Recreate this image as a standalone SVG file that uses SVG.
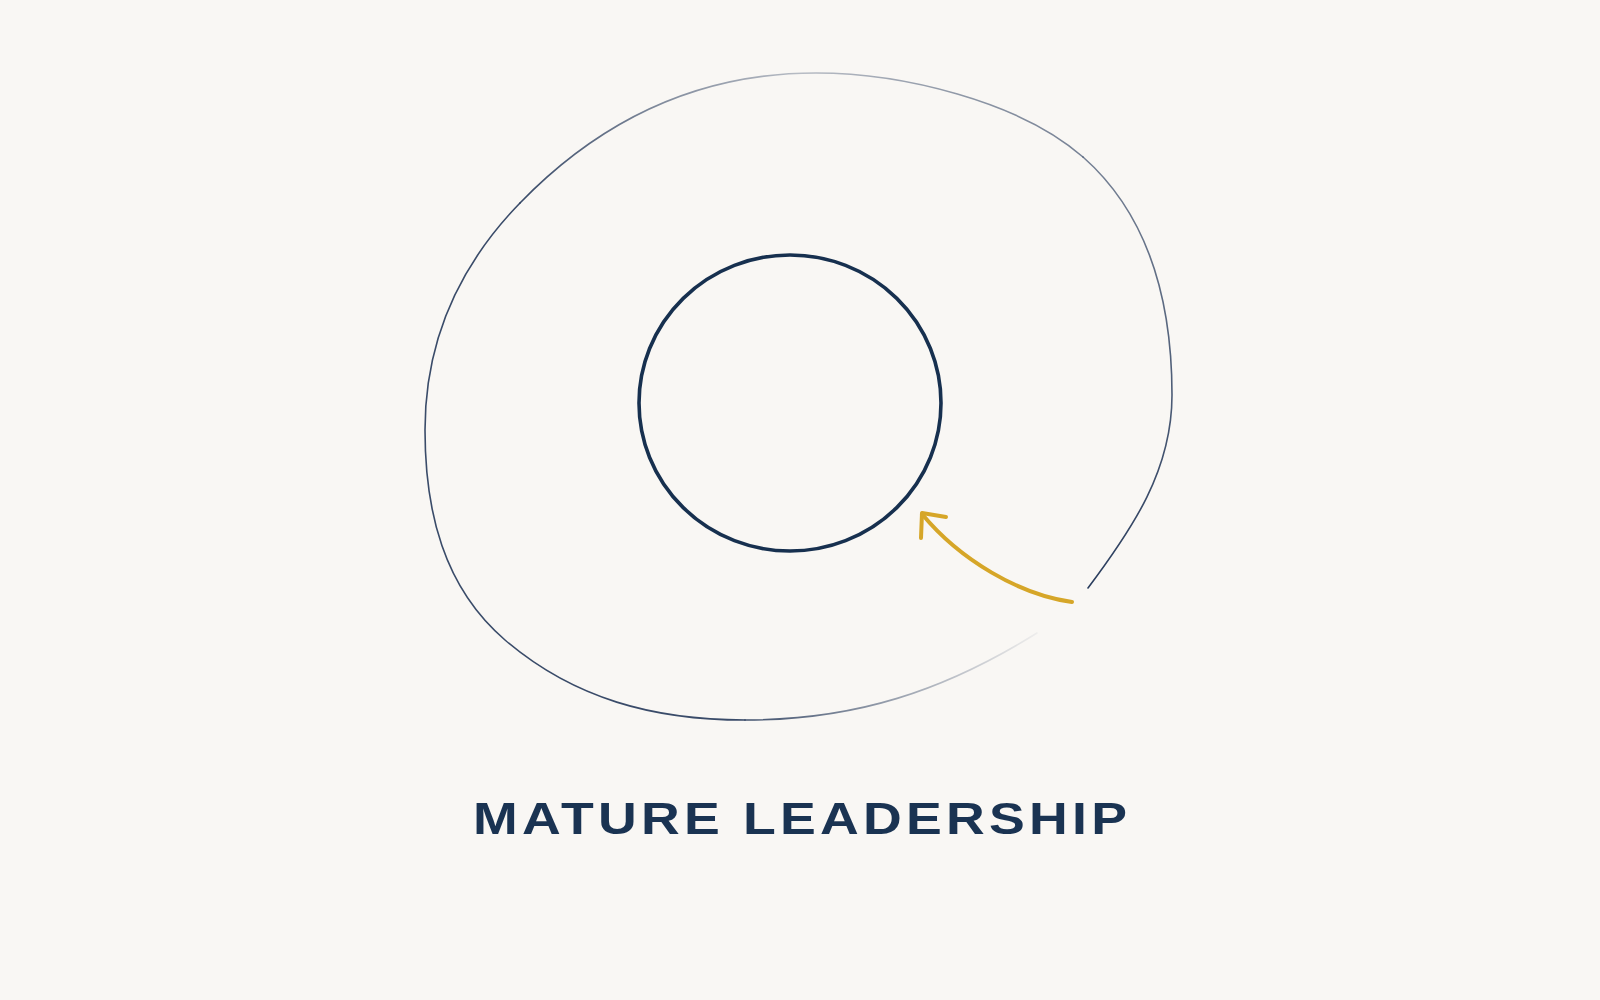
<svg xmlns="http://www.w3.org/2000/svg" width="1600" height="1000" viewBox="0 0 1600 1000">
  <style>
    .outer { fill: none; stroke-width: 1.6; stroke-linecap: round; stroke-linejoin: round; }
    .inner { fill: none; stroke: #17304f; stroke-width: 3.6; }
    .arrow { fill: none; stroke: #d6a628; stroke-width: 4; stroke-linecap: round; stroke-linejoin: round; }
    .label { font-family: "Liberation Sans", "DejaVu Sans", sans-serif; font-size: 44px; font-weight: bold; fill: #1a3352; }
  </style>
  <defs>
    <linearGradient id="gR" gradientUnits="userSpaceOnUse" x1="0" y1="588" x2="0" y2="157">
      <stop offset="0" stop-color="#1f3355" stop-opacity="0.95"/>
      <stop offset="1" stop-color="#1f3355" stop-opacity="0.6"/>
    </linearGradient>
    <linearGradient id="gT" gradientUnits="userSpaceOnUse" x1="1083" y1="0" x2="520" y2="0">
      <stop offset="0" stop-color="#1f3355" stop-opacity="0.6"/>
      <stop offset="0.28" stop-color="#1f3355" stop-opacity="0.45"/>
      <stop offset="0.5" stop-color="#1f3355" stop-opacity="0.3"/>
      <stop offset="0.75" stop-color="#1f3355" stop-opacity="0.55"/>
      <stop offset="1" stop-color="#1f3355" stop-opacity="0.88"/>
    </linearGradient>
    <linearGradient id="gB" gradientUnits="userSpaceOnUse" x1="745" y1="0" x2="1037" y2="0">
      <stop offset="0" stop-color="#1f3355" stop-opacity="0.85"/>
      <stop offset="0.5" stop-color="#1f3355" stop-opacity="0.45"/>
      <stop offset="1" stop-color="#1f3355" stop-opacity="0.05"/>
    </linearGradient>
  </defs>
  <rect width="1600" height="1000" fill="#f9f7f4"/>

  <g id="outer-boundary">
    <path class="outer" stroke="url(#gR)" d="M1088,588 C1133,528 1172,470 1172,395 C1172,304 1151,217 1083,157"/>
    <path class="outer" stroke="url(#gT)" d="M1083,157 C1019,101 901,73 816,73 C700,73 601,119.5 520,203"/>
    <path class="outer" stroke="#1f3355" stroke-opacity="0.88" d="M520,203 C458.4,266.4 425,342 425,430 C425,511 443.4,587.3 505,640 C574,699 654,720 745,720"/>
    <path class="outer" stroke="url(#gB)" d="M745,720 C855,720 943.5,691.3 1037,633"/>
  </g>

  <g id="inner-circle">
    <ellipse class="inner" cx="790" cy="403" rx="151" ry="148"/>
  </g>

  <g id="connectors">
    <path class="arrow" d="M1072,602 C1020,595 960,560 922,514"/>
    <path class="arrow" d="M946,517 L922,513 L921,538"/>
  </g>

  <g id="title">
    <text class="label" transform="translate(800 834) scale(1.22 1)" x="0" y="0" text-anchor="middle" textLength="536" lengthAdjust="spacing">MATURE LEADERSHIP</text>
  </g>
</svg>
